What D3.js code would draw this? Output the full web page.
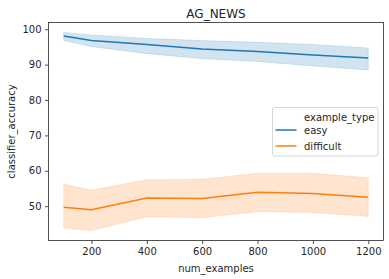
<!DOCTYPE html>
<html>
<head>
<meta charset="utf-8">
<script src="https://cdn.jsdelivr.net/npm/d3@7"></script>
<style>
  body { margin: 0; background: #fff; }
  svg { font-family: "DejaVu Sans", sans-serif; }
</style>
</head>
<body>
<div id="chart"></div>
<script>
// data
var numExamples = [100, 200, 400, 600, 800, 1000, 1200];
var easyMean  = [98.1, 96.8, 95.7, 94.4, 93.7, 92.7, 91.9];
var easyLow   = [96.8, 95.1, 93.1, 91.7, 90.9, 89.6, 88.5];
var easyHigh  = [99.1, 98.4, 97.4, 96.8, 96.3, 95.7, 94.7];
var hardMean  = [49.7, 49.0, 52.3, 52.2, 53.9, 53.6, 52.5];
var hardLow   = [43.8, 43.1, 47.0, 46.7, 48.5, 48.2, 47.1];
var hardHigh  = [56.2, 54.5, 57.5, 57.6, 59.3, 59.3, 58.0];
var xTicks = [200, 400, 600, 800, 1000, 1200];
var yTicks = [50, 60, 70, 80, 90, 100];
var seriesNames = ["easy", "difficult"];
var colors = ["#1f77b4", "#ff7f0e"];

var W = 389, H = 279;
var margin = { top: 22.5, right: 5.5, bottom: 38.5, left: 48.5 };
var width = W - margin.left - margin.right,
    height = H - margin.top - margin.bottom;

var svg = d3.select("#chart").append("svg")
    .attr("width", W).attr("height", H);

var g = svg.append("g")
    .attr("transform", "translate(" + margin.left + "," + margin.top + ")");

var x = d3.scaleLinear().domain([45, 1255]).range([0, width]);
var y = d3.scaleLinear().domain([40.3, 101.9]).range([height, 0]);

var series = [
  { name: seriesNames[0], mean: easyMean, low: easyLow, high: easyHigh, color: colors[0] },
  { name: seriesNames[1], mean: hardMean, low: hardLow, high: hardHigh, color: colors[1] }
];

var area = d3.area()
    .x(function (d) { return x(d.n); })
    .y0(function (d) { return y(d.lo); })
    .y1(function (d) { return y(d.hi); });
var line = d3.line()
    .x(function (d) { return x(d.n); })
    .y(function (d) { return y(d.v); });

series.forEach(function (s) {
  var pts = numExamples.map(function (n, i) {
    return { n: n, v: s.mean[i], lo: s.low[i], hi: s.high[i] };
  });
  g.append("path").datum(pts)
      .attr("fill", s.color).attr("fill-opacity", 0.2)
      .attr("stroke", s.color).attr("stroke-opacity", 0.2).attr("stroke-width", 0.8)
      .attr("d", area);
  g.append("path").datum(pts)
      .attr("fill", "none").attr("stroke", s.color).attr("stroke-width", 1.5)
      .attr("d", line);
});

// axes
var xAxis = g.append("g")
    .attr("transform", "translate(0," + height + ")")
    .call(d3.axisBottom(x).tickValues(xTicks).tickFormat(d3.format("d"))
      .tickSize(3.5).tickPadding(3.5));
var yAxis = g.append("g")
    .call(d3.axisLeft(y).tickValues(yTicks).tickFormat(d3.format("d"))
      .tickSize(3.5).tickPadding(3.5));
[xAxis, yAxis].forEach(function (a) {
  a.select(".domain").remove();
  a.selectAll("text").attr("font-size", 10).attr("fill", "#262626")
      .attr("font-family", "DejaVu Sans, sans-serif");
  a.selectAll("line").attr("stroke", "#262626").attr("stroke-width", 0.8);
});

// frame
g.append("rect")
    .attr("width", width).attr("height", height)
    .attr("fill", "none").attr("stroke", "#262626").attr("stroke-width", 0.8);

// labels
svg.append("text")
    .attr("x", margin.left + width / 2).attr("y", 18)
    .attr("text-anchor", "middle").attr("font-size", 12).attr("fill", "#262626")
    .text("AG_NEWS");
svg.append("text")
    .attr("x", margin.left + width / 2).attr("y", 272)
    .attr("text-anchor", "middle").attr("font-size", 10).attr("fill", "#262626")
    .text("num_examples");
svg.append("text")
    .attr("transform", "translate(15," + (margin.top + height / 2) + ") rotate(-90)")
    .attr("text-anchor", "middle").attr("font-size", 10).attr("fill", "#262626")
    .text("classifier_accuracy");

// legend
var lg = svg.append("g").attr("transform", "translate(272.5,107.5)");
lg.append("rect")
    .attr("width", 105.5).attr("height", 48.5).attr("rx", 2)
    .attr("fill", "#fff").attr("fill-opacity", 0.8)
    .attr("stroke", "#ccc").attr("stroke-width", 0.8);
lg.append("text").attr("x", 31.5).attr("y", 13)
    .attr("font-size", 10).attr("fill", "#262626").text("example_type");
series.forEach(function (s, i) {
  var yy = 22.5 + i * 16;
  lg.append("line").attr("x1", 3).attr("x2", 24).attr("y1", yy).attr("y2", yy)
      .attr("stroke", s.color).attr("stroke-width", 1.5);
  lg.append("text").attr("x", 31.5).attr("y", yy + 3.5)
      .attr("font-size", 10).attr("fill", "#262626").text(s.name);
});
</script>
</body>
</html>
